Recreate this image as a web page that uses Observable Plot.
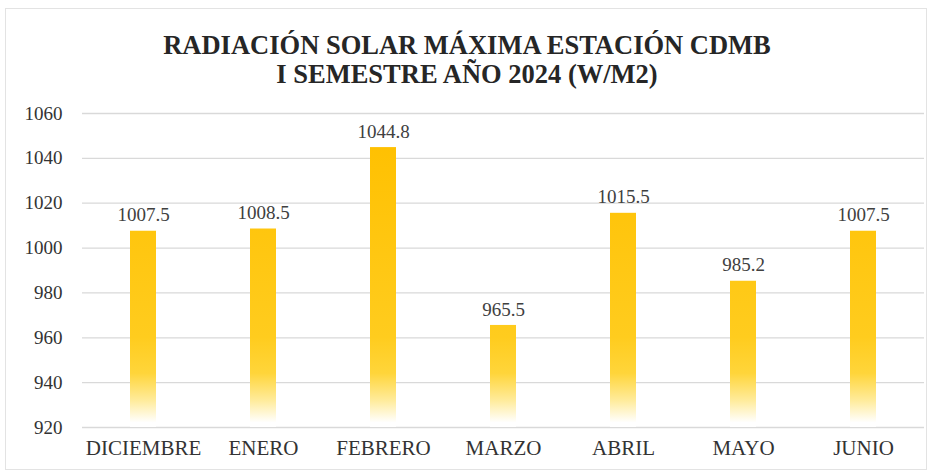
<!DOCTYPE html>
<html>
<head>
<meta charset="utf-8">
<script src="https://cdn.jsdelivr.net/npm/d3@7"></script>
<script src="https://cdn.jsdelivr.net/npm/@observablehq/plot@0.6"></script>
<style>
  body { margin: 0; background: #fff; }
  #wrap { position: relative; width: 934px; height: 473px; overflow: hidden; background: #fff; }
  #frame { position: absolute; left: 5px; top: 8px; width: 922px; height: 462px; border: 1px solid #e3e3e3; box-sizing: border-box; }
  #title { position: absolute; left: 0; top: 31px; width: 934px; text-align: center;
    font-family: "Liberation Serif", "Times New Roman", serif; font-weight: bold; font-size: 26.5px;
    line-height: 29px; color: #262626; }
  #chart { position: absolute; left: 0; top: 100px; }
</style>
</head>
<body>
<div id="wrap">
  <div id="frame"></div>
  <div id="title">RADIACIÓN SOLAR MÁXIMA ESTACIÓN CDMB<br>I SEMESTRE AÑO 2024 (W/M2)</div>
  <div id="chart"></div>
</div>
<script>
const months = ["DICIEMBRE", "ENERO", "FEBRERO", "MARZO", "ABRIL", "MAYO", "JUNIO"];
const values = [1007.5, 1008.5, 1044.8, 965.5, 1015.5, 985.2, 1007.5];
const yTicks = [920, 940, 960, 980, 1000, 1020, 1040, 1060];

const data = months.map((m, i) => ({month: m, value: values[i]}));
const font = "'Liberation Serif', 'Times New Roman', serif";

const chart = Plot.plot({
  width: 934,
  height: 373,
  marginTop: 13,
  marginBottom: 46,
  marginLeft: 82,
  marginRight: 10,
  style: {fontFamily: font, fontSize: "18px", color: "#404040", background: "transparent"},
  x: {domain: months, paddingInner: 0.78, paddingOuter: 0.39, label: null},
  y: {domain: [920, 1060], label: null},
  marks: [
    Plot.gridY(yTicks, {stroke: "#d9d9d9", strokeOpacity: 1, strokeWidth: 1.3}),
    Plot.barY(data, {x: "month", y1: 920, y2: "value", fill: "url(#barGrad)"}),
    Plot.text(data, {x: "month", y: "value", text: d => d.value.toFixed(1), dy: -16,
      fontSize: 19, fill: "#404040", fontFamily: font}),
    Plot.axisX({tickSize: 0, tickPadding: 13, fontSize: 21, fill: "#333"}),
    Plot.axisY({ticks: yTicks, tickFormat: d => String(d), tickSize: 0, tickPadding: 20, fontSize: 19, fill: "#333"})
  ]
});

// gradient in user space: solid gold, fading to white near the base
const ys = chart.scale("y");
const ns = "http://www.w3.org/2000/svg";
const defs = document.createElementNS(ns, "defs");
const grad = document.createElementNS(ns, "linearGradient");
grad.setAttribute("id", "barGrad");
grad.setAttribute("gradientUnits", "userSpaceOnUse");
const gTop = ys.apply(1050), gBot = ys.apply(922);
grad.setAttribute("x1", 0); grad.setAttribute("x2", 0);
grad.setAttribute("y1", gTop);
grad.setAttribute("y2", gBot);
const off = v => ((ys.apply(v) - gTop) / (gBot - gTop)).toFixed(3);
[[0, "#FFC000"], [off(960), "#FFCC1E"], [off(944), "#FFD53A"], [off(932), "#FFEB9A"], [1, "#FFFFFF"]]
  .forEach(([o, c]) => {
    const s = document.createElementNS(ns, "stop");
    s.setAttribute("offset", o);
    s.setAttribute("stop-color", c);
    grad.appendChild(s);
  });
defs.appendChild(grad);
chart.insertBefore(defs, chart.firstChild);

document.getElementById("chart").appendChild(chart);
</script>
</body>
</html>
